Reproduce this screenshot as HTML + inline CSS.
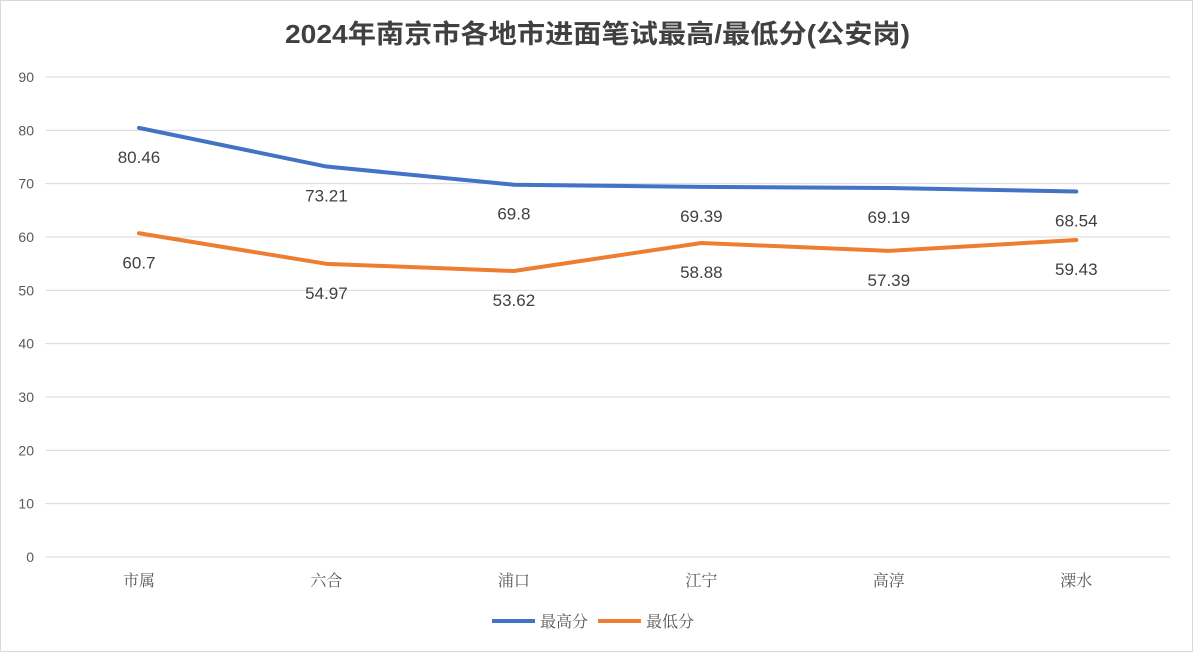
<!DOCTYPE html>
<html><head><meta charset="utf-8"><style>
body{margin:0;background:#fff;}
svg{display:block;font-family:"Liberation Sans","Noto Sans CJK SC",sans-serif;}
</style></head><body>
<svg width="1193" height="652" id="c">
<rect x="0.5" y="0.5" width="1192" height="651" fill="#fff" stroke="#d9d9d9"/>
<text x="285" y="43" textLength="625" lengthAdjust="spacingAndGlyphs" font-size="26" font-weight="bold" fill="#404040" font-family="Liberation Sans,'Noto Sans CJK SC',sans-serif">2024年南京市各地市进面笔试最高/最低分(公安岗)</text>
<g id="grid"></g><g id="series"></g>
<g>
<line x1="492" y1="621" x2="535" y2="621" stroke="#4472c4" stroke-width="4"/>
<text x="540" y="627" font-size="16" fill="#595959" font-family="'Noto Serif CJK SC',serif">最高分</text>
<line x1="598" y1="621" x2="641" y2="621" stroke="#ed7d31" stroke-width="4"/>
<text x="646" y="627" font-size="16" fill="#595959" font-family="'Noto Serif CJK SC',serif">最低分</text>
</g>
</svg>
<script>
const categories=["市属","六合","浦口","江宁","高淳","溧水"];
const maxScores=[80.46,73.21,69.8,69.39,69.19,68.54];
const minScores=[60.7,54.97,53.62,58.88,57.39,59.43];
const yTicks=[0,10,20,30,40,50,60,70,80,90];
const NS="http://www.w3.org/2000/svg";
const x0=45.25,x1=1170,y0=557,y1=77,ymax=90;
const xs=i=>x0+(i+0.5)*(x1-x0)/categories.length;
const ys=v=>y0-(v/ymax)*(y0-y1);
function mk(t,a,p){const e=document.createElementNS(NS,t);for(const k in a)e.setAttribute(k,a[k]);p.appendChild(e);return e;}
const g=document.getElementById('grid'),s=document.getElementById('series');
yTicks.forEach(v=>{
 const l=mk('line',{x1:x0,x2:x1,y1:ys(v),y2:ys(v),stroke:'#d9d9d9','stroke-width':1},g);
 
 
 const t=mk('text',{x:34,y:ys(v)+5,'text-anchor':'end','font-size':14,fill:'#595959'},g);
 t.textContent=v;
 
 
});
categories.forEach((c,i)=>{
 const t=mk('text',{x:xs(i),y:586,'text-anchor':'middle','font-size':16,fill:'#595959','font-family':"'Noto Serif CJK SC',serif"},g);
 t.textContent=c;
 
 
});
function series(data,color,name){
 const p=mk('polyline',{points:data.map((v,i)=>xs(i)+','+ys(v)).join(' '),fill:'none',stroke:color,'stroke-width':4,'stroke-linejoin':'round','stroke-linecap':'round'},s);
 
 
 data.forEach((v,i)=>{
  const t=mk('text',{x:xs(i),y:ys(v)+35,'text-anchor':'middle','font-size':17,fill:'#404040'},s);
  t.textContent=v;
  
  
 });
}
series(maxScores,'#4472c4','max-score');
series(minScores,'#ed7d31','min-score');
</script>
</body></html>
